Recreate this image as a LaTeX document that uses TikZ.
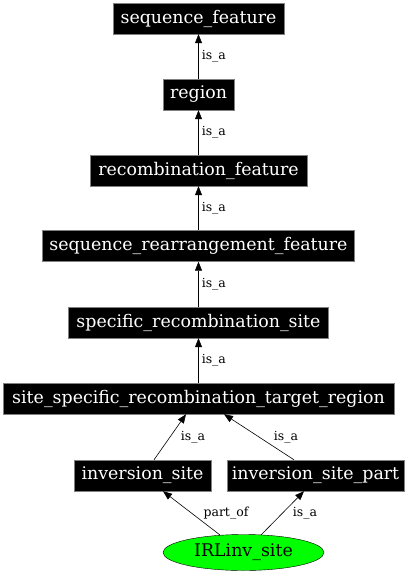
\documentclass[tikz,border=0pt]{standalone}
\usepackage{fontspec}
\setmainfont{DejaVu Serif}
\usetikzlibrary{arrows.meta,shapes.geometric}
\begin{document}
\begin{tikzpicture}[x=1pt,y=-1pt,
  term/.style={draw=gray,fill=black,text=white,font=\fontsize{17.4}{20}\selectfont,inner sep=0pt,minimum height=31pt},
  leaf/.style={draw=black,fill=green,ellipse,font=\fontsize{17.4}{20}\selectfont,minimum width=161pt,minimum height=36pt,inner sep=0pt},
  rel/.style={draw=black,-{Triangle[length=9pt,width=7pt]},line width=0.6pt},
  lab/.style={font=\fontsize{12.5}{14}\selectfont,inner sep=1pt},
  vlab/.style={lab,right,xshift=2pt}]
\useasboundingbox (0,0) rectangle (414,576);
\node[term,minimum width=171pt] (sf) at (198.5,18.5) {sequence\_feature};
\node[term,minimum width=71pt] (rg) at (198.5,94.5) {region};
\node[term,minimum width=217pt] (rf) at (198.5,170.5) {recombination\_feature};
\node[term,minimum width=312pt] (srf) at (198.5,246) {sequence\_rearrangement\_feature};
\node[term,minimum width=260pt] (srs) at (198.5,322.5) {specific\_recombination\_site};
\node[term,minimum width=391pt] (sstr) at (198.5,398.5) {site\_specific\_recombination\_target\_region};
\node[term,minimum width=137pt] (is) at (142.5,475.5) {inversion\_site};
\node[term,minimum width=177pt] (isp) at (315.5,475.5) {inversion\_site\_part};
\node[leaf] (irl) at (243.5,552.5) {IRLinv\_site};
\draw[rel] (rg) -- node[vlab] {is\_a} (sf);
\draw[rel] (rf) -- node[vlab] {is\_a} (rg);
\draw[rel] (srf) -- node[vlab] {is\_a} (rf);
\draw[rel] (srs) -- node[vlab] {is\_a} (srf);
\draw[rel] (sstr) -- node[vlab] {is\_a} (srs);
\coordinate (a1) at (154,460); \coordinate (a2) at (186,414);
\coordinate (b1) at (294,460); \coordinate (b2) at (224,414);
\coordinate (c1) at (220,535); \coordinate (c2) at (163,491);
\coordinate (d1) at (261,535); \coordinate (d2) at (304,491);
\draw[rel] (is.north -| a1) -- (sstr.south -| a2);
\draw[rel] (isp.north -| b1) -- (sstr.south -| b2);
\draw[rel] (c1) -- (is.south -| c2);
\draw[rel] (d1) -- (isp.south -| d2);
\node[lab] (l1) at (193,437) {is\_a};
\node[lab] (l2) at (286,437) {is\_a};
\node[lab] (l3) at (226,513) {part\_of};
\node[lab] (l4) at (305,513) {is\_a};
\end{tikzpicture}
\end{document}
